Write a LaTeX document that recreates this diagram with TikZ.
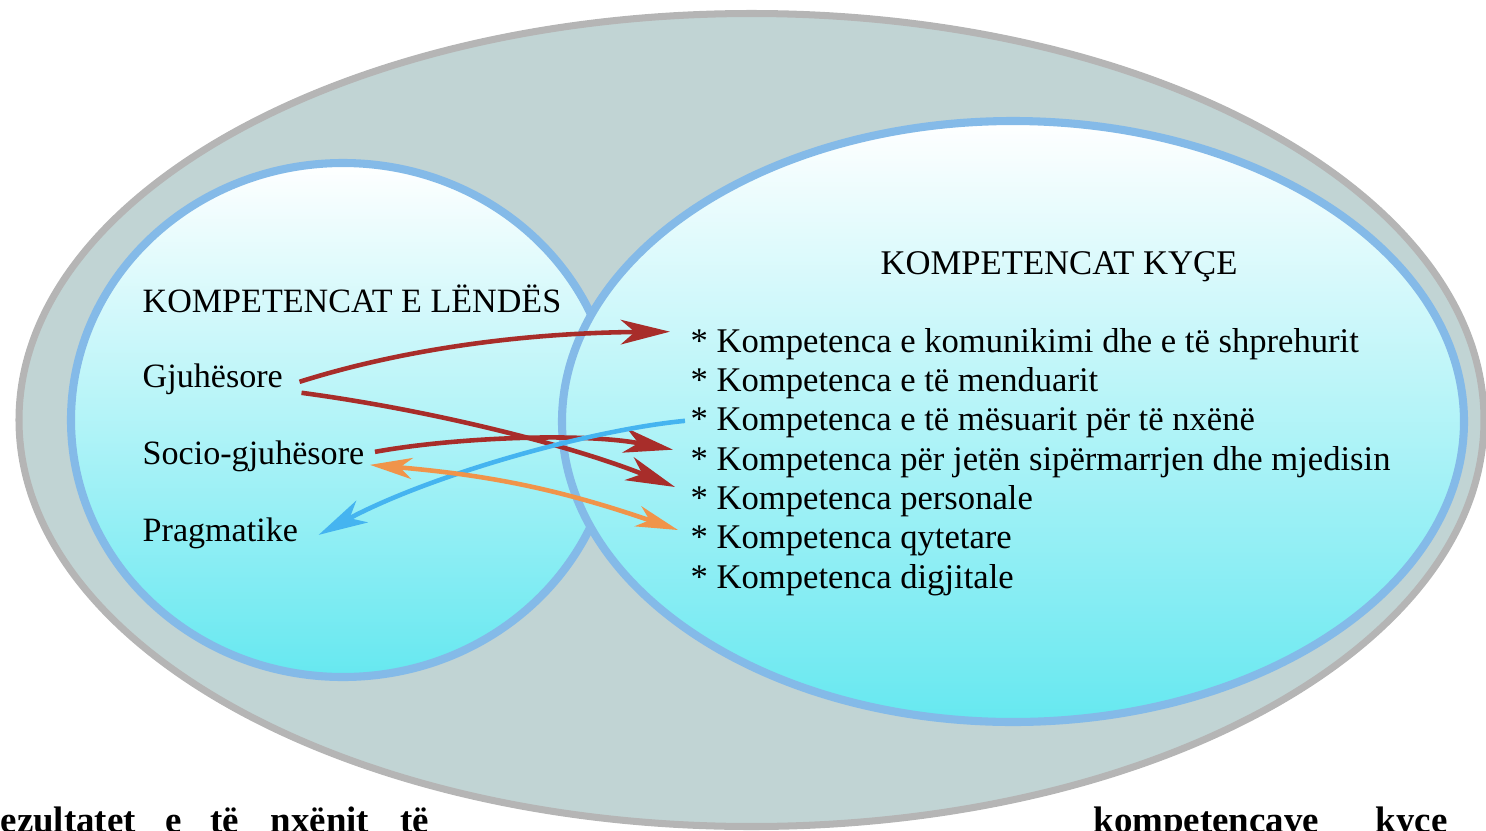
\documentclass[tikz,border=0pt]{standalone}
\usepackage{fontspec}
\setmainfont{Liberation Serif}
\usepackage{tikz}
\usetikzlibrary{shapes.geometric}
\usetikzlibrary{arrows.meta}

\definecolor{outerfill}{HTML}{C1D4D4}
\definecolor{outerline}{HTML}{B5B5B5}
\definecolor{ringline}{HTML}{84BAE8}
\definecolor{cyanfill}{HTML}{66E8F0}
\definecolor{redarrow}{HTML}{A82D2A}
\definecolor{bluearrow}{HTML}{45B4F0}
\definecolor{orangearrow}{HTML}{F0944A}

\begin{document}
\begin{tikzpicture}[
  ring/.style={ellipse, draw=ringline, line width=2.3pt, top color=white, bottom color=cyanfill},
  lbl/.style={anchor=base west, inner sep=0pt, font=\fontsize{9.7}{11}\selectfont},
  item/.style={anchor=base west, inner sep=0pt, font=\fontsize{9.85}{11}\selectfont},
  bot/.style={anchor=base west, inner sep=0pt, font=\fontsize{10.5}{12}\selectfont\bfseries},
  link/.style={line width=1.3pt, -{Stealth[length=14pt, width=7pt, inset=4pt]}}
]
\useasboundingbox (0,0) rectangle (14.86,8.30);
\clip (0,0) rectangle (14.86,8.30);

\node [ellipse, draw=outerline, line width=2pt, fill=outerfill, minimum width=14.65cm, minimum height=8.13cm] (outer) at (7.515,4.10) {};
\node [ring, minimum width=5.44cm, minimum height=5.14cm] (lende) at (3.43,4.10) {};
\node [ring, minimum width=9.02cm, minimum height=6.01cm] (kyce) at (10.13,4.085) {};

\node [lbl] (t1) at (1.42,5.18) {KOMPETENCAT E LËNDËS};
\node [item] (t2) at (8.80,5.56) {KOMPETENCAT KYÇE};

\node [lbl] (gj) at (1.42,4.43) {Gjuhësore};
\node [lbl] (sg) at (1.42,3.66) {Socio-gjuhësore};
\node [lbl] (pr) at (1.42,2.89) {Pragmatike};

\node [item] (k1) at (6.90,4.780) {* Kompetenca e komunikimi dhe e të shprehurit};
\node [item] (k2) at (6.90,4.387) {* Kompetenca e të menduarit};
\node [item] (k3) at (6.90,3.994) {* Kompetenca e të mësuarit për të nxënë};
\node [item] (k4) at (6.90,3.600) {* Kompetenca për jetën sipërmarrjen dhe mjedisin};
\node [item] (k5) at (6.90,3.207) {* Kompetenca personale};
\node [item] (k6) at (6.90,2.814) {* Kompetenca qytetare};
\node [item] (k7) at (6.90,2.420) {* Kompetenca digjitale};

% lidhjet
\draw[link, redarrow] ([xshift=1.6mm,yshift=-0.3mm]gj.east) .. controls (4.0,4.80) and (5.2,4.97) .. ([xshift=-2mm,yshift=1.2mm]k1.west);
\draw[link, redarrow] ([xshift=1.8mm,yshift=-1.4mm]gj.east) .. controls (4.3,4.20) and (5.7,3.85) .. ([xshift=-1.5mm,yshift=1.4mm]k5.west);
\draw[link, redarrow] ([xshift=1.0mm,yshift=0.4mm]sg.east) .. controls (4.5,3.92) and (5.8,3.98) .. ([xshift=-1.7mm,yshift=1.2mm]k4.west);
\draw[link, bluearrow] ([xshift=-0.5mm,yshift=0.2mm]k3.west) .. controls (5.9,4.00) and (4.3,3.55) .. ([xshift=2mm,yshift=-0.2mm]pr.east);
\draw[link, orangearrow, {Stealth[length=12pt, width=6pt, inset=3.5pt]}-{Stealth[length=12pt, width=6pt, inset=3.5pt]}] ([xshift=0.5mm,yshift=-0.9mm]sg.east) to[bend left=7] ([xshift=-1.2mm,yshift=1.1mm]k6.west);

% teksti poshte
\node [bot] (b1) at (0.00,-0.02) {ezultatet};
\node [bot] (b2) at (1.65,-0.02) {e};
\node [bot] (b3) at (2.10,-0.02) {të};
\node [bot] (b4) at (2.70,-0.02) {nxënit};
\node [bot] (b5) at (4.00,-0.02) {të};
\node [bot] (c1) at (10.93,-0.02) {kompetencave};
\node [bot] (c2) at (13.75,-0.02) {kyçe};
\end{tikzpicture}
\end{document}
